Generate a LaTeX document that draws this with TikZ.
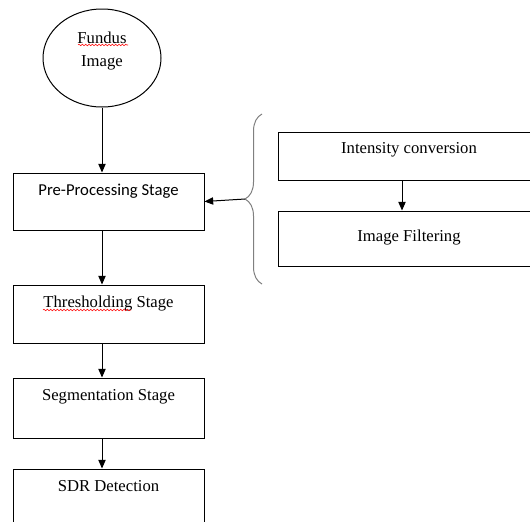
\documentclass[tikz,border=0pt]{standalone}
\usepackage{fontspec}
\setmainfont{Liberation Serif}
\newfontfamily\calibri{Carlito}
\usetikzlibrary{positioning, arrows.meta, shapes, calc, decorations.pathreplacing, decorations.pathmorphing}

\begin{document}
\begin{tikzpicture}[
    x=0.75pt, y=-0.75pt,
    line width=0.75pt,
    stage/.style={rectangle, draw, inner sep=0pt, minimum width=143.25pt, text height=9pt, font=\fontsize{12.5}{15}\selectfont},
    substage/.style={stage, minimum width=196.5pt},
    arrow/.style={-{Triangle[length=6.5pt, width=5.5pt]}},
    bracket/.style={draw=black!50, decorate, decoration={brace, amplitude=12.75pt}},
    squiggle/.style={draw=red, line width=0.4pt, decorate, decoration={snake, amplitude=0.6pt, segment length=2.5pt}}
]
    \useasboundingbox (0,0) rectangle (530,521);
    \clip (0,0) rectangle (530,521);

    \node[ellipse, draw, minimum width=88.5pt, minimum height=73.5pt, align=center, inner sep=0pt,
          font=\fontsize{12.5}{15}\selectfont] (img) at (102,58)
          {Fundus\\[2.25pt]Image\rule[-13.4pt]{0pt}{1pt}};

    \node[stage, minimum height=42.75pt, text depth=18pt, font=\calibri\fontsize{12.5}{15}\selectfont] (pre) at (108.5,201.5) {Pre-Processing Stage};
    \node[stage, minimum height=43.5pt, text depth=18.5pt] (thr) at (108.5,314) {Thresholding Stage};
    \node[stage, minimum height=45pt, text depth=20pt] (seg) at (108.5,408) {Segmentation Stage};
    \node[stage, minimum height=45pt, text depth=20pt] (sdr) at (108.5,499) {SDR Detection};

    \node[substage, minimum height=36pt, text depth=13.5pt] (int) at (409,156) {Intensity conversion};
    \node[substage, minimum height=41.25pt, text depth=5.2pt] (filt) at (409,238.5) {Image Filtering};

    \draw[arrow] (img) -- (pre.north -| img);
    \draw[arrow] (pre.south -| img) -- (thr.north -| img);
    \draw[arrow] (thr.south -| img) -- (seg.north -| img);
    \draw[arrow] (seg.south -| img) -- (sdr.north -| img);
    \draw[arrow] (int.south -| 402,0) -- (filt.north -| 402,0);

    % brace gathering the two sub-steps
    \draw[bracket] (262,284) -- (262,114);
    \coordinate (tip) at (245,199);
    \draw[arrow] (tip) -- (pre.east);

    % spell-check marks
    \draw[squiggle] ($(img.center)+(-24,-13)$) -- ++(50,0);
    \draw[squiggle] ($(thr.center)+(-65.5,-4)$) -- ++(88,0);
\end{tikzpicture}
\end{document}
